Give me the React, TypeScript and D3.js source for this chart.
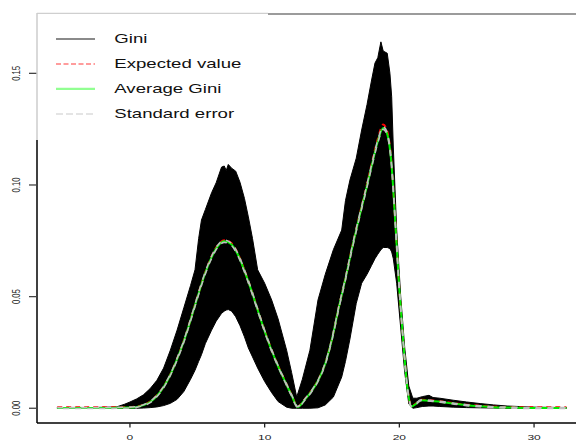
import React from 'react';
import * as d3 from 'd3';

const W = 576;
const H = 441;

// Grid of positions for the summary curves
const xs = [
  -5.4, -4, -2, -1, 0, 0.5, 1, 1.5, 2, 2.5,
  3, 3.5, 4, 4.5, 5, 5.5, 6, 6.5, 7, 7.5,
  8, 8.5, 9, 9.5, 10, 10.5, 11, 11.5, 12, 12.45,
  13, 13.5, 14, 14.5, 15, 15.5, 16, 16.5, 17, 17.5,
  18, 18.4, 18.8, 19.1, 19.4, 19.7, 20, 20.3, 20.6, 20.9,
  21.2, 21.6, 22, 23, 24, 25, 26, 27, 28, 30, 32.4,
];

// Average of the simulated Gini runs
const avgGini = [
  0.0001, 0.0001, 0.0001, 0.0002, 0.0003, 0.0006, 0.0014, 0.0028, 0.0055, 0.0095,
  0.0150, 0.0220, 0.0300, 0.0395, 0.0495, 0.0590, 0.0668, 0.0724, 0.0748, 0.0736,
  0.0690, 0.0615, 0.0530, 0.0437, 0.0345, 0.0262, 0.0188, 0.0122, 0.0058, 0.0006,
  0.0040, 0.0078, 0.0128, 0.0200, 0.0310, 0.0450, 0.0580, 0.0720, 0.0850, 0.0972,
  0.1100, 0.1195, 0.1255, 0.1228, 0.1105, 0.0830, 0.0530, 0.0290, 0.0090, 0.0008,
  0.0018, 0.0036, 0.0035, 0.0029, 0.0021, 0.0014, 0.0009, 0.0005, 0.0003, 0.0001, 0.0001,
];

// Theoretical expected value
const expectedGini = [
  0.0004, 0.0004, 0.0004, 0.0004, 0.0005, 0.0008, 0.0016, 0.0030, 0.0057, 0.0097,
  0.0152, 0.0222, 0.0302, 0.0397, 0.0497, 0.0593, 0.0672, 0.0728, 0.0753, 0.0741,
  0.0694, 0.0618, 0.0532, 0.0439, 0.0347, 0.0264, 0.0190, 0.0124, 0.0060, 0.0008,
  0.0042, 0.0080, 0.0130, 0.0202, 0.0312, 0.0452, 0.0582, 0.0723, 0.0854, 0.0978,
  0.1108, 0.1206, 0.1271, 0.1240, 0.1112, 0.0833, 0.0532, 0.0292, 0.0092, 0.0010,
  0.0020, 0.0038, 0.0037, 0.0031, 0.0023, 0.0016, 0.0011, 0.0007, 0.0005, 0.0004, 0.0004,
];

// Standard error of the average
const stdError = [
  0.0002, 0.0002, 0.0002, 0.0002, 0.0002, 0.0002, 0.0002, 0.0003, 0.0003, 0.0003,
  0.0003, 0.0004, 0.0004, 0.0004, 0.0005, 0.0005, 0.0005, 0.0005, 0.0005, 0.0005,
  0.0005, 0.0005, 0.0005, 0.0004, 0.0004, 0.0004, 0.0003, 0.0003, 0.0003, 0.0002,
  0.0003, 0.0003, 0.0003, 0.0004, 0.0004, 0.0005, 0.0005, 0.0006, 0.0006, 0.0006,
  0.0006, 0.0006, 0.0006, 0.0006, 0.0006, 0.0005, 0.0005, 0.0004, 0.0003, 0.0002,
  0.0002, 0.0002, 0.0002, 0.0002, 0.0002, 0.0002, 0.0002, 0.0002, 0.0002, 0.0002, 0.0002,
];

// Spread of the individual Gini runs: highest and lowest run at each position
const bandX = [
  -5.4, -3, -1, -0.4, 0, 0.5, 1, 1.5, 2, 2.5,
  3, 3.5, 4, 4.5, 4.83, 5.1, 5.31, 5.6, 6.06, 6.4,
  6.8, 7.0, 7.15, 7.3, 7.55, 7.85, 8.17, 8.5, 8.79, 9.1,
  9.48, 10.0, 10.52, 11.0, 11.63, 12.0, 12.38, 12.8, 13.36, 13.96,
  14.5, 15.1, 15.72, 16.0, 16.33, 16.8, 17.2, 17.6, 17.94, 18.19,
  18.4, 18.63, 18.8, 19.1, 19.3, 19.43, 19.55, 19.8, 20.1, 20.4,
  20.7, 21.0, 21.3, 21.7, 22.2, 22.5, 23, 24, 25, 26,
  27, 28, 30, 32.4,
];

const bandHigh = [
  0.0003, 0.0003, 0.0006, 0.0018, 0.0028, 0.0042, 0.0060, 0.0088, 0.0125, 0.0180,
  0.0260, 0.0350, 0.0450, 0.0550, 0.0620, 0.0760, 0.0843, 0.0890, 0.0965, 0.1010,
  0.1080, 0.1085, 0.1065, 0.1092, 0.1075, 0.1062, 0.1012, 0.0940, 0.0857, 0.0760,
  0.0620, 0.0560, 0.0485, 0.0400, 0.0260, 0.0160, 0.0050, 0.0130, 0.0260, 0.0485,
  0.0600, 0.0710, 0.0798, 0.0930, 0.1022, 0.1120, 0.1246, 0.1360, 0.1470, 0.1546,
  0.1570, 0.1641, 0.1600, 0.1590, 0.1500, 0.1395, 0.1170, 0.0800, 0.0500, 0.0270,
  0.0100, 0.0045, 0.0045, 0.0052, 0.0058, 0.0048, 0.0045, 0.0036, 0.0028, 0.0021,
  0.0015, 0.0010, 0.0005, 0.0003,
];

const bandLow = [
  0, 0, 0, 0, 0, 0, 0.0001, 0.0003, 0.0006, 0.0012,
  0.0022, 0.0040, 0.0075, 0.0130, 0.0170, 0.0210, 0.0240, 0.0290, 0.0350, 0.0390,
  0.0425, 0.0435, 0.0440, 0.0442, 0.0435, 0.0410, 0.0370, 0.0320, 0.0270, 0.0230,
  0.0180, 0.0120, 0.0070, 0.0030, 0.0005, 0, 0, 0, 0, 0.0002,
  0.0015, 0.0050, 0.0140, 0.0210, 0.0310, 0.0470, 0.0560, 0.0600, 0.0640, 0.0670,
  0.0690, 0.0710, 0.0720, 0.0720, 0.0715, 0.0700, 0.0670, 0.0560, 0.0360, 0.0160,
  0.0020, 0, 0.0003, 0.0008, 0.0010, 0.0010, 0.0008, 0.0005, 0.0003, 0.0002,
  0.0001, 0, 0, 0,
];

const xTicks = [0, 10, 20, 30];
const yTicks = [0, 0.05, 0.1, 0.15];
const yTickLabels = ['0.00', '0.05', '0.10', '0.15'];
const legendLabels = ['Gini', 'Expected value', 'Average Gini', 'Standard error'];

const FONT = "'Liberation Sans', Arial, Helvetica, sans-serif";

export default function App() {
  const x = d3.scaleLinear().domain([-6.9, 33.9]).range([37, 586.6]);
  const y = d3.scaleLinear().domain([-0.0066, 0.1768]).range([423, 13.5]);

  const band = d3
    .area<number>()
    .x((_, i) => x(bandX[i]))
    .y0((_, i) => y(bandLow[i]))
    .y1((d) => y(d))
    .curve(d3.curveLinear)(bandHigh) as string;

  const curve = (vals: number[]) =>
    d3
      .line<number>()
      .x((_, i) => x(xs[i]))
      .y((d) => y(d))
      .curve(d3.curveMonotoneX)(vals) as string;

  const seUpper = avgGini.map((v, i) => v + stdError[i]);
  const seLower = avgGini.map((v, i) => v - stdError[i]);

  const plotLeft = 37;
  const plotBottom = 423;
  const legendRight = 268;
  const legendBottom = 140;

  const legendRows = [
    { stroke: '#8a8a8a', dash: undefined, width: 2 },
    { stroke: '#ff9c9c', dash: '5,2.5', width: 2 },
    { stroke: '#92ff92', dash: undefined, width: 2.4 },
    { stroke: '#e4e4e4', dash: '7,3', width: 2 },
  ];

  return (
    <svg
      width={W}
      height={H}
      viewBox={`0 0 ${W} ${H}`}
      style={{ position: 'absolute', left: 0, top: 0, background: '#fff' }}
    >
      <rect x={0} y={0} width={W} height={H} fill="#fff" />

      {/* Simulated Gini runs */}
      <path d={band} fill="#000" stroke="#000" strokeWidth={1} strokeLinejoin="round" />

      {/* Expected value */}
      <path d={curve(expectedGini)} fill="none" stroke="#ff0000" strokeWidth={2} strokeDasharray="5,4" />
      {/* Average Gini */}
      <path d={curve(avgGini)} fill="none" stroke="#00ee00" strokeWidth={2} />
      {/* Standard error band */}
      <path d={curve(seUpper)} fill="none" stroke="#bebebe" strokeWidth={1.6} strokeDasharray="6,6" />
      <path d={curve(seLower)} fill="none" stroke="#bebebe" strokeWidth={1.6} strokeDasharray="6,6" strokeDashoffset={6} />

      {/* Plot frame */}
      <line x1={legendRight} x2={W} y1={14} y2={14} stroke="#7a7a7a" strokeWidth={1.6} />
      <line x1={plotLeft} x2={plotLeft} y1={legendBottom} y2={plotBottom} stroke="#000" strokeWidth={1.5} />
      <line x1={plotLeft} x2={W} y1={plotBottom} y2={plotBottom} stroke="#000" strokeWidth={1.5} />

      {/* Y axis */}
      {yTicks.map((t, i) => (
        <g key={`y${t}`}>
          <line x1={29} x2={plotLeft} y1={y(t)} y2={y(t)} stroke="#444" strokeWidth={1.3} />
          <text
            transform={`translate(20, ${y(t)}) scale(1.33, 1) rotate(-90)`}
            textAnchor="middle"
            fontFamily={FONT}
            fontSize={7.7}
            fill="#222"
          >
            {yTickLabels[i]}
          </text>
        </g>
      ))}

      {/* X axis */}
      {xTicks.map((t) => (
        <g key={`x${t}`}>
          <line x1={x(t)} x2={x(t)} y1={plotBottom} y2={plotBottom + 4.5} stroke="#222" strokeWidth={1.3} />
          <text
            transform={`translate(${x(t)}, 439.8) scale(1.5, 1)`}
            textAnchor="middle"
            fontFamily={FONT}
            fontSize={8}
            fill="#222"
          >
            {t}
          </text>
        </g>
      ))}

      {/* Legend */}
      <rect x={plotLeft} y={13} width={legendRight - plotLeft} height={legendBottom - 13} fill="#fff" />
      <line x1={plotLeft} x2={legendRight} y1={13.3} y2={13.3} stroke="#c4c4c4" strokeWidth={1} />
      <line x1={plotLeft} x2={plotLeft} y1={13} y2={legendBottom} stroke="#cdcdcd" strokeWidth={1.5} />
      {legendLabels.map((label, i) => {
        const base = 43.3 + i * 25;
        const row = legendRows[i];
        return (
          <g key={label}>
            <line
              x1={56}
              x2={95}
              y1={base - 4.4}
              y2={base - 4.4}
              stroke={row.stroke}
              strokeWidth={row.width}
              strokeDasharray={row.dash}
            />
            <text
              transform={`translate(114.3, ${base}) scale(1.43, 1)`}
              fontFamily={FONT}
              fontSize={13}
              fill="#111"
            >
              {label}
            </text>
          </g>
        );
      })}
    </svg>
  );
}
